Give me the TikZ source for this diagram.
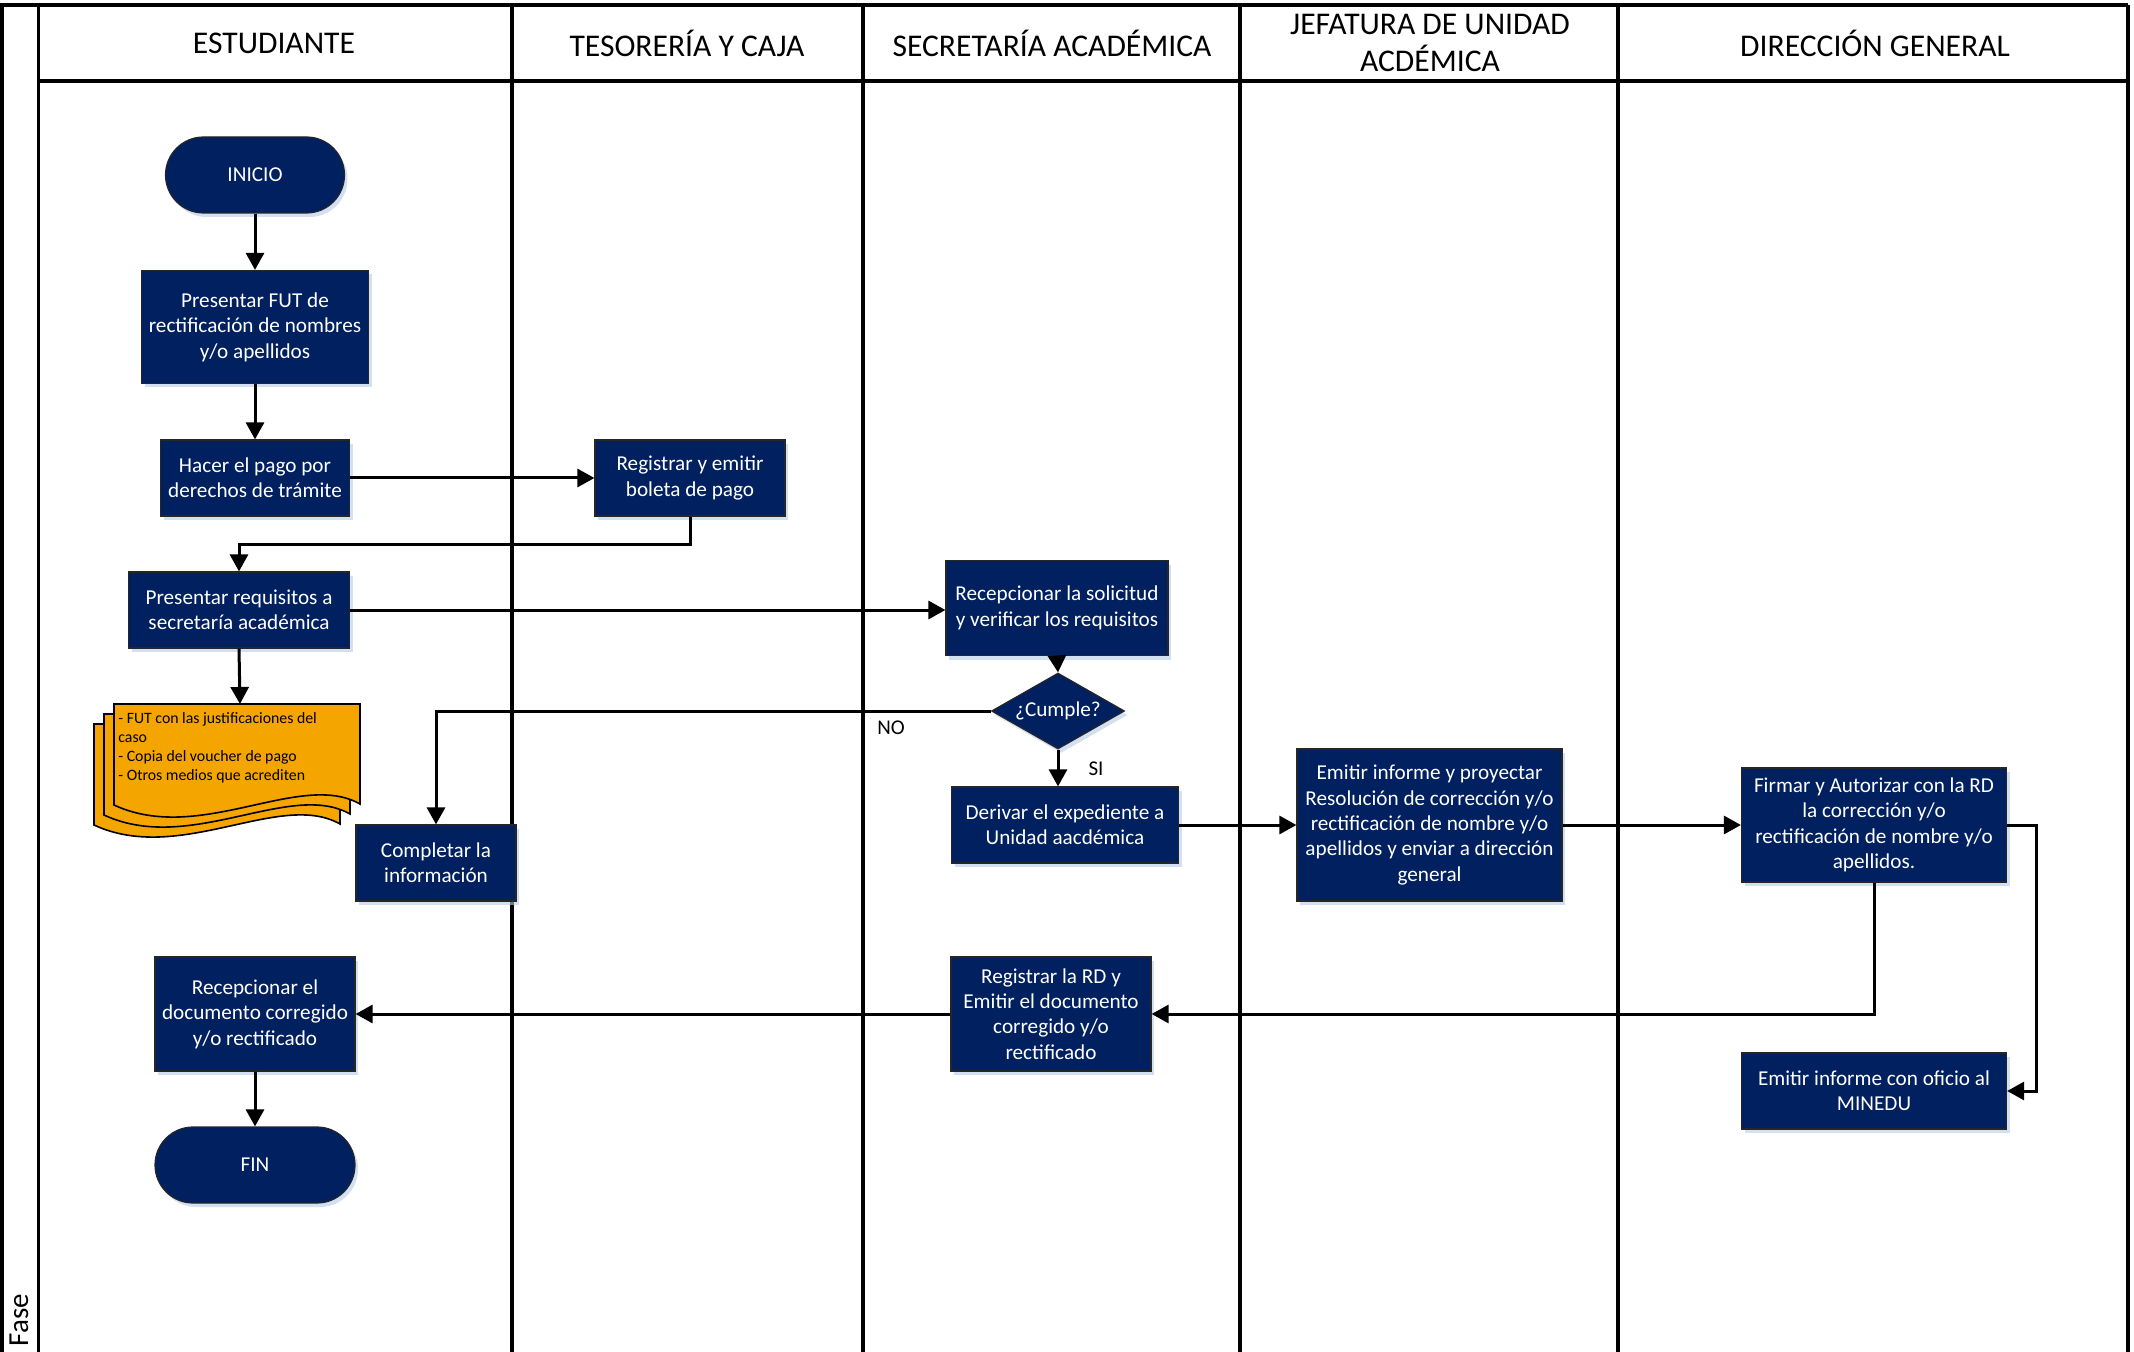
\documentclass[tikz,border=0pt]{standalone}
\usepackage{fontspec}
\setmainfont{Carlito}
\usetikzlibrary{arrows.meta,shapes.geometric,shadows}
\definecolor{navy}{HTML}{002060}
\definecolor{docorange}{HTML}{F5A500}
\definecolor{glow}{HTML}{B4CBEA}
\tikzset{
  docsheet/.pic={\filldraw[fill=docorange,draw=black,line width=0.8pt]
    (0,0) -- (246,0) -- (246,100) .. controls (186,66) and (86,141) .. (0,101) -- cycle;}
}
\begin{document}
\begin{tikzpicture}[x=0.5pt,y=-0.5pt,
  lane/.style={line width=1.6pt,black},
  proc/.style={rectangle,fill=navy,draw=black!85,line width=0.6pt,text=white,align=center,
    font=\fontsize{10.6}{12.7}\selectfont,inner sep=2pt,
    drop shadow={shadow xshift=1.5pt,shadow yshift=-2pt,fill=glow,opacity=0.6}},
  term/.style={proc,rounded corners=19pt},
  arr/.style={line width=1.5pt,-{Triangle[length=8.5pt,width=9pt]}},
  hdr/.style={font=\fontsize{15.8}{18.3}\selectfont,align=center},
  lbl/.style={font=\fontsize{10.5}{12}\selectfont,inner sep=0pt}
]
\useasboundingbox (0,0) rectangle (2134,1352);

% swimlane frame
\draw[lane] (0,5) -- (2128,5);
\draw[lane] (2,5) -- (2,1352);
\draw[lane] (38.5,5) -- (38.5,1352);
\foreach \xx in {512,863,1240,1618,2128} {\draw[lane] (\xx,5) -- (\xx,1352);}
\draw[lane] (38.5,81) -- (2128,81);

% headers
\node[hdr] (hEst) at (274,43) {ESTUDIANTE};
\node[hdr] (hTes) at (687,43) {TESORERÍA Y CAJA};
\node[hdr] (hSec) at (1052,43) {SECRETARÍA ACADÉMICA};
\node[hdr] (hJef) at (1430,43) {JEFATURA DE UNIDAD\\ACDÉMICA};
\node[hdr] (hDir) at (1875,43) {DIRECCIÓN GENERAL};
\node[font=\fontsize{14.5}{16}\selectfont,rotate=90,inner sep=0pt] (fase) at (19,1320) {Fase};

% document stack
\pic at (94,724) {docsheet};
\pic at (104,714) {docsheet};
\pic at (114,704) {docsheet};
\coordinate (docTop) at (240,704);
\node[font=\fontsize{7.9}{9.5}\selectfont,align=left,anchor=north west,inner sep=0pt] (docs) at (118,712)
  {- FUT con las justificaciones del\\caso\\- Copia del voucher de pago\\- Otros medios que acrediten};

% nodes
\node[term,minimum width=89.5pt,minimum height=38pt] (inicio) at (255,175) {INICIO};
\node[proc,minimum width=113.5pt,minimum height=56.5pt] (fut) at (255,327) {Presentar FUT de\\rectificación de nombres\\y/o apellidos};
\node[proc,minimum width=94.5pt,minimum height=38pt] (pago) at (255,478) {Hacer el pago por\\derechos de trámite};
\node[proc,minimum width=95pt,minimum height=38pt] (registrar) at (690,478) {Registrar y emitir\\boleta de pago};
\node[proc,minimum width=110.5pt,minimum height=38pt] (requisitos) at (239,610) {Presentar requisitos a\\secretaría académica};
\node[proc,minimum width=80pt,minimum height=38pt] (completar) at (436,863) {Completar la\\información};
\node[proc,minimum width=111pt,minimum height=47.5pt] (recep) at (1057,608) {Recepcionar la solicitud\\y verificar los requisitos};
\node[proc,diamond,minimum width=66.5pt,minimum height=38pt,inner sep=0pt] (cumple) at (1058,711) {\makebox[0pt]{¿Cumple?}};
\node[proc,minimum width=113.5pt,minimum height=38pt] (derivar) at (1065,825) {Derivar el expediente a\\Unidad aacdémica};
\node[proc,minimum width=132.5pt,minimum height=76pt] (emitir) at (1429.5,825) {Emitir informe y proyectar\\Resolución de corrección y/o\\rectificación de nombre y/o\\apellidos y enviar a dirección\\general};
\node[proc,minimum width=132.5pt,minimum height=57pt] (firmar) at (1874,825) {Firmar y Autorizar con la RD\\la corrección y/o\\rectificación de nombre y/o\\apellidos.};
\node[proc,minimum width=132.5pt,minimum height=38pt] (minedu) at (1874,1091) {Emitir informe con oficio al\\MINEDU};
\node[proc,minimum width=100pt,minimum height=57pt] (regrd) at (1051,1014) {Registrar la RD y\\Emitir el documento\\corregido y/o\\rectificado};
\node[proc,minimum width=100pt,minimum height=57pt] (recdoc) at (255,1014) {Recepcionar el\\documento corregido\\y/o rectificado};
\node[term,minimum width=100pt,minimum height=38pt] (fin) at (255,1165) {FIN};

% connectors
\draw[arr] (inicio.south) -- (fut.north);
\draw[arr] (fut.south) -- (pago.north);
\draw[arr] (pago.east) -- (registrar.west);
\draw[arr] (registrar.south) -- ++(0,28) -| (requisitos.north);
\draw[arr] (requisitos.east) -- (requisitos.east -| recep.west);
\draw[arr] (requisitos.south) -- (docTop);
\draw[arr] (recep.south) -- (cumple.north);
\draw[arr] (cumple.west) -| (completar.north);
\draw[arr] (cumple.south) -- (cumple.south |- derivar.north);
\draw[arr] (derivar.east) -- (emitir.west);
\draw[arr] (emitir.east) -- (firmar.west);
\draw[arr] (firmar.south) |- (regrd.east);
\draw[arr] (firmar.east) -- ++(29,0) |- (minedu.east);
\draw[arr] (regrd.west) -- (recdoc.east);
\draw[arr] (recdoc.south) -- (fin.north);

% labels
\node[lbl] (no) at (891,728) {NO};
\node[lbl] (si) at (1096,769) {SI};
\end{tikzpicture}
\end{document}
